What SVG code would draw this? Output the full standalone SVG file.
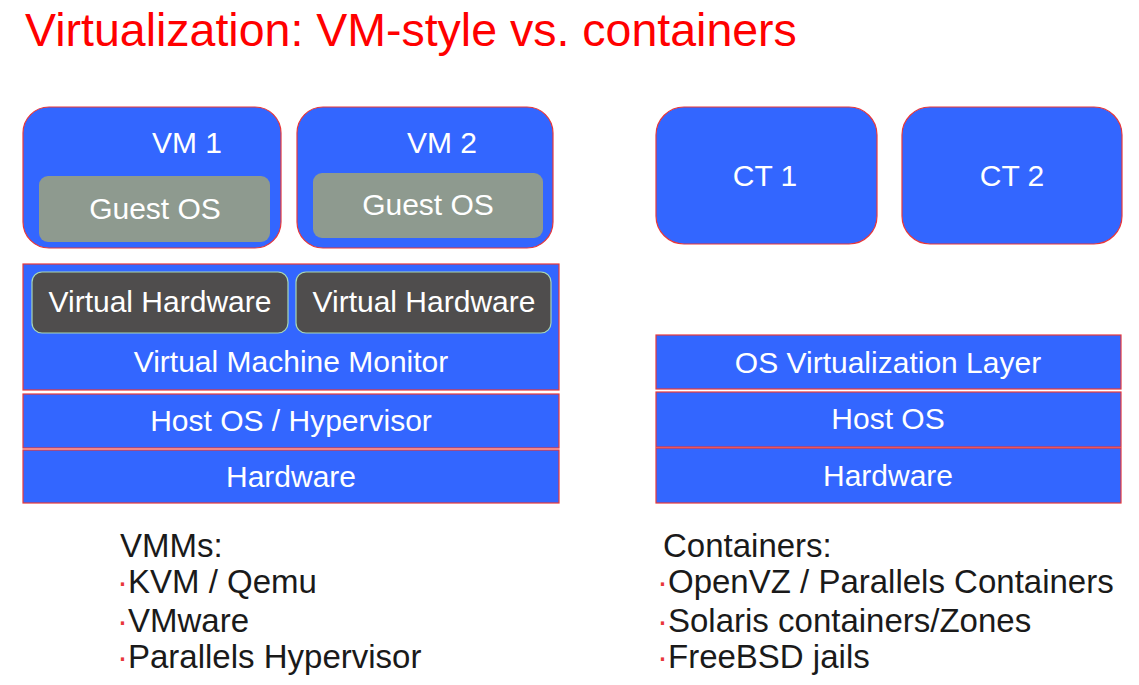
<svg xmlns="http://www.w3.org/2000/svg" width="1139" height="685" viewBox="0 0 1139 685">
<style>
text{font-family:"Liberation Sans",Arial,sans-serif}
.blue{fill:#3366FF;stroke:#E8373A;stroke-width:1.2}
.guest{fill:#8E9A8F}
.vhw{fill:#4F4D4D;stroke:#A8D8B4;stroke-width:1.2}
.lbl{fill:#FFFFFF;font-size:30px;text-anchor:middle}
.list{fill:#1A1A1A;font-size:33px}
.bul{fill:#E8373A}
</style>
<rect width="1139" height="685" fill="#FFFFFF"/>
<text x="25" y="46" fill="#FF0000" style="font-size:46.5px">Virtualization: VM-style vs. containers</text>
<g id="vm1">
<rect class="blue" x="23" y="107" width="258" height="141" rx="26"/>
<text class="lbl" x="187" y="153">VM 1</text>
</g>
<g id="guest1">
<rect class="guest" x="39" y="176" width="231" height="66" rx="9"/>
<text class="lbl" x="155" y="219">Guest OS</text>
</g>
<g id="vm2">
<rect class="blue" x="297" y="107" width="256" height="141" rx="26"/>
<text class="lbl" x="442" y="153">VM 2</text>
</g>
<g id="guest2">
<rect class="guest" x="313" y="173" width="230" height="65" rx="9"/>
<text class="lbl" x="428" y="215">Guest OS</text>
</g>
<g id="vmm">
<rect class="blue" x="23" y="264" width="536" height="126"/>
<text class="lbl" x="291" y="372">Virtual Machine Monitor</text>
</g>
<g id="vhw1">
<rect class="vhw" x="32" y="272" width="256" height="61" rx="10"/>
<text class="lbl" x="160" y="312">Virtual Hardware</text>
</g>
<g id="vhw2">
<rect class="vhw" x="296" y="272" width="255" height="61" rx="10"/>
<text class="lbl" x="424" y="312">Virtual Hardware</text>
</g>
<g id="hostos-left">
<rect class="blue" x="23" y="394" width="536" height="54"/>
<text class="lbl" x="291" y="431">Host OS / Hypervisor</text>
</g>
<g id="hw-left">
<rect class="blue" x="23" y="450" width="536" height="53"/>
<text class="lbl" x="291" y="487">Hardware</text>
</g>
<g id="ct1">
<rect class="blue" x="656" y="107" width="221" height="137" rx="28"/>
<text class="lbl" x="765" y="186">CT 1</text>
</g>
<g id="ct2">
<rect class="blue" x="902" y="107" width="220" height="137" rx="28"/>
<text class="lbl" x="1012" y="186">CT 2</text>
</g>
<g id="osvirt">
<rect class="blue" x="656" y="335" width="465" height="54"/>
<text class="lbl" x="888" y="373">OS Virtualization Layer</text>
</g>
<g id="hostos-right">
<rect class="blue" x="656" y="392" width="465" height="55"/>
<text class="lbl" x="888" y="429">Host OS</text>
</g>
<g id="hw-right">
<rect class="blue" x="656" y="448" width="465" height="55"/>
<text class="lbl" x="888" y="486">Hardware</text>
</g>
<g id="connectors"></g>
<g id="list-left">
<text class="list" x="120" y="557">VMMs:</text>
<text class="list" x="117" y="593"><tspan class="bul">·</tspan>KVM / Qemu</text>
<text class="list" x="117" y="632"><tspan class="bul">·</tspan>VMware</text>
<text class="list" x="117" y="668"><tspan class="bul">·</tspan>Parallels Hypervisor</text>
</g>
<g id="list-right">
<text class="list" x="663" y="557">Containers:</text>
<text class="list" x="657" y="593"><tspan class="bul">·</tspan>OpenVZ / Parallels Containers</text>
<text class="list" x="657" y="632"><tspan class="bul">·</tspan>Solaris containers/Zones</text>
<text class="list" x="657" y="668"><tspan class="bul">·</tspan>FreeBSD jails</text>
</g>
</svg>
